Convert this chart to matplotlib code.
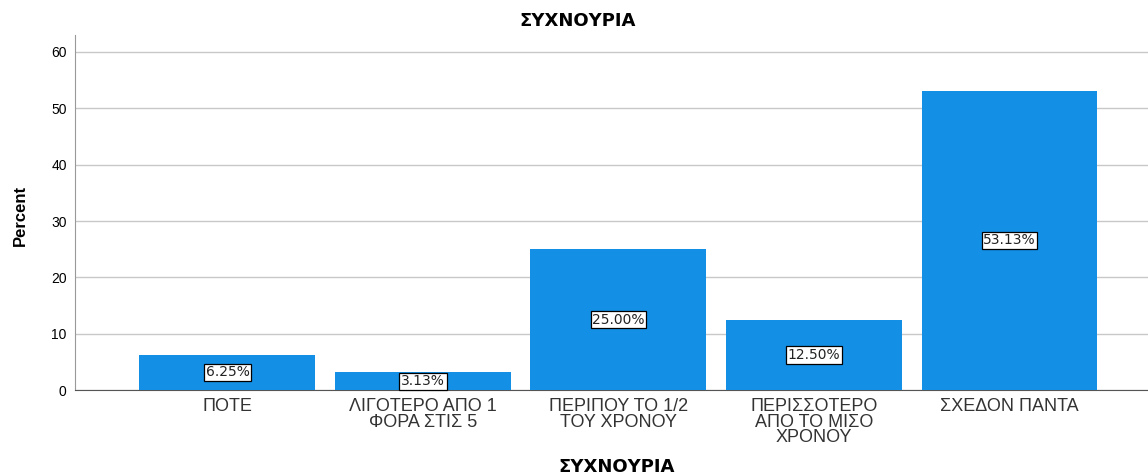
import numpy as np
import matplotlib.pyplot as plt

plt.rcParams['font.family'] = ['Liberation Sans', 'DejaVu Sans']

categories = ["ΠΟΤΕ", "ΛΙΓΟΤΕΡΟ ΑΠΟ 1\nΦΟΡΑ ΣΤΙΣ 5", "ΠΕΡΙΠΟΥ ΤΟ 1/2\nΤΟΥ ΧΡΟΝΟΥ",
              "ΠΕΡΙΣΣΟΤΕΡΟ\nΑΠΟ ΤΟ ΜΙΣΟ\nΧΡΟΝΟΥ", "ΣΧΕΔΟΝ ΠΑΝΤΑ"]
percent = [6.25, 3.13, 25.00, 12.50, 53.13]
yticks = [0, 10, 20, 30, 40, 50, 60]

fig = plt.figure(figsize=(11.48, 4.74), dpi=100)
ax = fig.add_axes([0.0653, 0.177, 0.96, 0.749])

x = np.arange(len(categories))
bars = ax.bar(x, percent, width=0.9, color='#148fe6', zorder=3)

for b, v in zip(bars, percent):
    ax.text(b.get_x() + b.get_width() / 2, v / 2, f"{v:.2f}%", ha='center', va='center',
            fontsize=10, family='DejaVu Sans', color='#222222', zorder=4,
            bbox=dict(boxstyle='square,pad=0.12', fc='white', ec='black', lw=0.9))

ax.set_xlim(-0.78, 4.857)
ax.set_ylim(0, 63)
ax.set_yticks(yticks)
ax.set_xticks(x)
ax.set_xticklabels(categories, fontsize=13, color='#333333', linespacing=0.88)
ax.tick_params(axis='y', labelsize=10, length=0, pad=6)
ax.tick_params(axis='x', length=0, pad=6)
ax.yaxis.grid(True, color='#c8c8c8', lw=1, zorder=0)

for s in ['top', 'right']:
    ax.spines[s].set_visible(False)
ax.spines['left'].set_color('#999999')
ax.spines['bottom'].set_color('#555555')

fig.text(0.503, 0.955, "ΣΥΧΝΟΥΡΙΑ", ha='center', va='center', fontsize=13,
         fontweight='bold', family='DejaVu Sans')
fig.text(0.537, 0.015, "ΣΥΧΝΟΥΡΙΑ", ha='center', va='center', fontsize=13,
         fontweight='bold', family='DejaVu Sans')
fig.text(0.018, 0.546, "Percent", ha='center', va='center', rotation=90, fontsize=12,
         fontweight='bold')

fig.savefig('out.png', dpi=100)
